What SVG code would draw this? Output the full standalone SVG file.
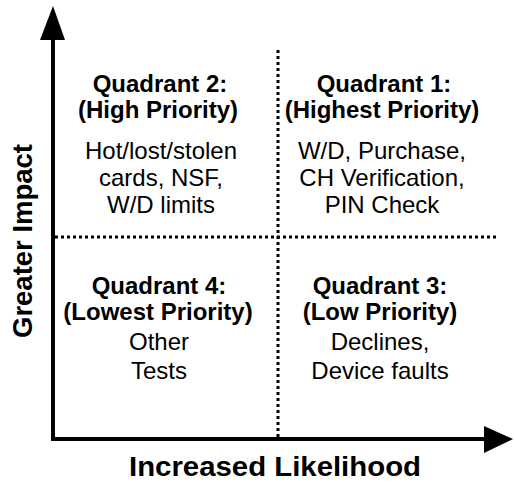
<svg xmlns="http://www.w3.org/2000/svg" width="514" height="482" viewBox="0 0 514 482">
<style>
.t{font-family:"Liberation Sans",Arial,sans-serif;fill:#000;text-anchor:middle}
.b{font-weight:bold;font-size:24px}
.r{font-size:24px}
.ax{font-weight:bold;font-size:28px}
.dot{stroke:#000;stroke-width:3;stroke-dasharray:3 3;fill:none}
.axis{stroke:#000;stroke-width:4;fill:none}
</style>
<rect width="514" height="482" fill="#fff"/>
<g id="connectors">
<line class="dot" x1="278" y1="50" x2="278" y2="440"/>
<line class="dot" x1="55" y1="237" x2="499" y2="237"/>
<path class="axis" d="M53 38 V439 H486"/>
<polygon points="53,6 40,40 65,40" fill="#000"/>
<polygon points="484,426 513,439 484,453" fill="#000"/>
</g>
<g id="q2">
<text class="t b" x="160" y="92">Quadrant 2:</text>
<text class="t b" x="158" y="118">(High Priority)</text>
<text class="t r" x="161" y="159">Hot/lost/stolen</text>
<text class="t r" x="161" y="186">cards, NSF,</text>
<text class="t r" x="161" y="213">W/D limits</text>
</g>
<g id="q1">
<text class="t b" x="384" y="92">Quadrant 1:</text>
<text class="t b" x="382" y="118">(Highest Priority)</text>
<text class="t r" x="382" y="159">W/D, Purchase,</text>
<text class="t r" x="382" y="186">CH Verification,</text>
<text class="t r" x="382" y="213">PIN Check</text>
</g>
<g id="q4">
<text class="t b" x="159" y="294">Quadrant 4:</text>
<text class="t b" x="158" y="320">(Lowest Priority)</text>
<text class="t r" x="159" y="350">Other</text>
<text class="t r" x="159" y="379">Tests</text>
</g>
<g id="q3">
<text class="t b" x="380" y="294">Quadrant 3:</text>
<text class="t b" x="380" y="320">(Low Priority)</text>
<text class="t r" x="380" y="350">Declines,</text>
<text class="t r" x="380" y="379">Device faults</text>
</g>
<g id="ylabel">
<text class="t ax" transform="translate(32,241) rotate(-90)" textLength="194" lengthAdjust="spacingAndGlyphs">Greater Impact</text>
</g>
<g id="xlabel">
<text class="t ax" x="275" y="476" textLength="292" lengthAdjust="spacingAndGlyphs">Increased Likelihood</text>
</g>
</svg>
